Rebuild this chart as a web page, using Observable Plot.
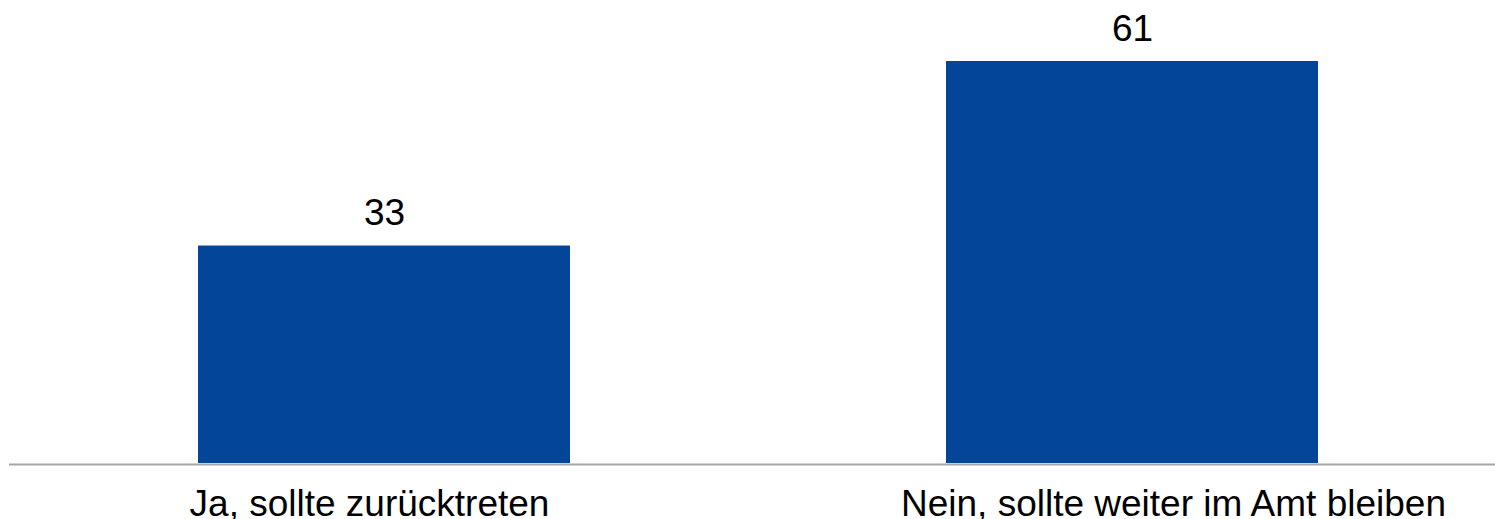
<!DOCTYPE html>
<html>
<head>
<meta charset="utf-8">
<script src="https://cdn.jsdelivr.net/npm/d3@7"></script>
<script src="https://cdn.jsdelivr.net/npm/@observablehq/plot@0.6"></script>
<style>
  html, body { margin: 0; padding: 0; background: #fff; }
  #chart svg { display: block; }
</style>
</head>
<body>
<div id="chart"></div>
<script>
const categories = ["Ja, sollte zurücktreten", "Nein, sollte weiter im Amt bleiben"];
const values = [33, 61];

const data = categories.map((c, i) => ({category: c, value: values[i]}));

const chart = Plot.plot({
  width: 1495,
  height: 519,
  marginTop: 61,
  marginBottom: 56,
  marginLeft: 9,
  marginRight: 0,
  style: {fontFamily: "Arial, 'Liberation Sans', sans-serif", color: "#000", background: "#fff"},
  x: {domain: categories, range: [9, 1507.5], paddingInner: 0.503, paddingOuter: 0.2525, label: null},
  y: {domain: [0, 61], axis: null},
  marks: [
    Plot.barY(data, {x: "category", y: "value", fill: "#034699"}),
    Plot.text(data, {x: "category", y: "value", text: d => String(d.value), lineAnchor: "bottom", dy: -21, fontSize: 37, fill: "#000"}),
    Plot.ruleY([0], {stroke: "#a6a6a6", strokeWidth: 2, dy: 1}),
    Plot.axisX([categories[0]], {tickSize: 0, tickPadding: 26, fontSize: 37, label: null, fill: "#000", dx: -15}),
    Plot.axisX([categories[1]], {tickSize: 0, tickPadding: 26, fontSize: 37, label: null, fill: "#000", dx: 41})
  ]
});
document.getElementById("chart").appendChild(chart);
</script>
</body>
</html>
